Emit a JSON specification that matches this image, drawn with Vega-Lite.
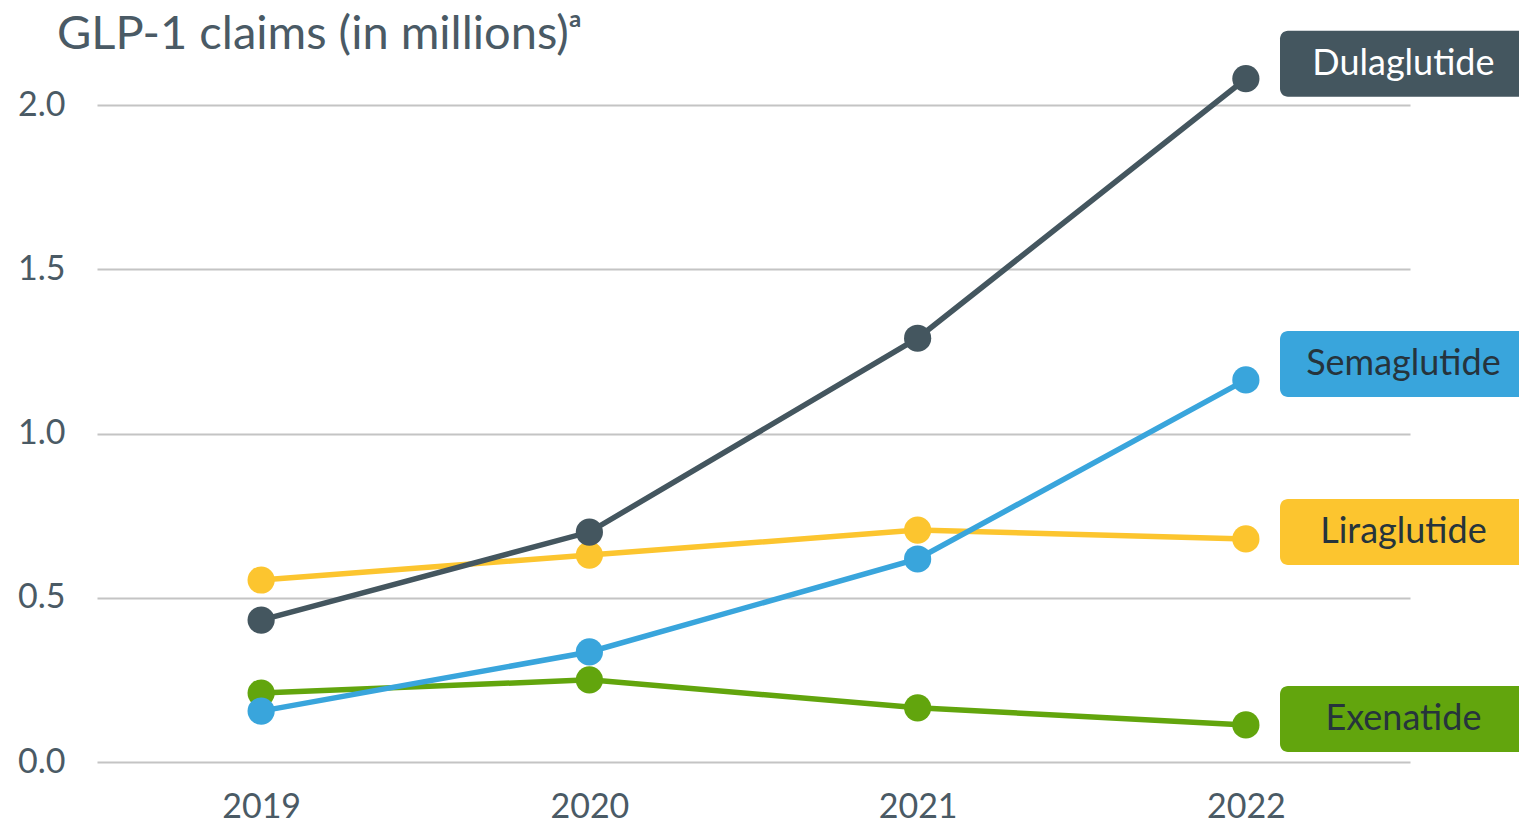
{
  "$schema": "https://vega.github.io/schema/vega-lite/v6.json",
  "autosize": {"type": "none"},
  "padding": {"left": 97, "top": 105, "right": 109, "bottom": 62},
  "width": 1313,
  "height": 657,
  "background": "white",
  "config": {"font": "Lato", "view": {"stroke": null}},
  "title": {
    "text": "GLP-1 claims (in millions)ᵃ",
    "anchor": "start",
    "frame": "group",
    "dx": -40,
    "offset": 0,
    "dy": 65,
    "baseline": "alphabetic",
    "fontSize": 47,
    "fontWeight": "normal",
    "color": "#4a5a65",
    "font": "Lato"
  },
  "data": {
    "values": [
      {"series": "Exenatide", "year": 2019, "value": 0.21},
      {"series": "Exenatide", "year": 2020, "value": 0.25},
      {"series": "Exenatide", "year": 2021, "value": 0.165},
      {"series": "Exenatide", "year": 2022, "value": 0.113},
      {"series": "Liraglutide", "year": 2019, "value": 0.554},
      {"series": "Liraglutide", "year": 2020, "value": 0.63},
      {"series": "Liraglutide", "year": 2021, "value": 0.706},
      {"series": "Liraglutide", "year": 2022, "value": 0.679},
      {"series": "Dulaglutide", "year": 2019, "value": 0.432},
      {"series": "Dulaglutide", "year": 2020, "value": 0.70},
      {"series": "Dulaglutide", "year": 2021, "value": 1.29},
      {"series": "Dulaglutide", "year": 2022, "value": 2.08},
      {"series": "Semaglutide", "year": 2019, "value": 0.155},
      {"series": "Semaglutide", "year": 2020, "value": 0.335},
      {"series": "Semaglutide", "year": 2021, "value": 0.618},
      {"series": "Semaglutide", "year": 2022, "value": 1.163}
    ]
  },
  "encoding": {
    "x": {
      "field": "year",
      "type": "quantitative",
      "scale": {"domain": [2018.5, 2022.5], "nice": false, "zero": false},
      "axis": {
        "title": null,
        "values": [2019, 2020, 2021, 2022],
        "format": "d",
        "grid": false,
        "domain": false,
        "ticks": false,
        "labelFontSize": 34,
        "labelColor": "#4a5a65",
        "labelPadding": 28,
        "labelFont": "Lato"
      }
    },
    "y": {
      "field": "value",
      "type": "quantitative",
      "scale": {"domain": [0, 2], "nice": false},
      "axis": {
        "title": null,
        "values": [0, 0.5, 1, 1.5, 2],
        "format": ".1f",
        "grid": true,
        "gridColor": "#c4c4c4",
        "gridWidth": 2,
        "domain": false,
        "ticks": false,
        "labelFontSize": 34,
        "labelColor": "#4a5a65",
        "labelPadding": 32,
        "labelFont": "Lato"
      }
    },
    "color": {
      "field": "series",
      "type": "nominal",
      "legend": null,
      "scale": {
        "domain": ["Dulaglutide", "Semaglutide", "Liraglutide", "Exenatide"],
        "range": ["#44565f", "#39a5dc", "#fcc52f", "#62a50d"]
      }
    }
  },
  "layer": [
    {"mark": {"type": "line", "strokeWidth": 5.5}},
    {"mark": {"type": "point", "filled": true, "opacity": 1, "size": 740}},
    {
      "transform": [{"filter": "datum.year === 2022 && datum.series === 'Dulaglutide'"}],
      "layer": [
        {"mark": {"type": "rect", "width": 260, "height": 66, "cornerRadius": 8, "yOffset": -15, "opacity": 1},
         "encoding": {"x": {"datum": 2022.5, "type": "quantitative"}}},
        {"mark": {"type": "text", "fontSize": 36, "align": "center", "baseline": "middle", "yOffset": -15, "font": "Lato"},
         "encoding": {"x": {"datum": 2022.48, "type": "quantitative"}, "text": {"field": "series"}, "color": {"value": "#ffffff"}}}
      ]
    },
    {
      "transform": [{"filter": "datum.year === 2022 && datum.series === 'Semaglutide'"}],
      "layer": [
        {"mark": {"type": "rect", "width": 260, "height": 66, "cornerRadius": 8, "yOffset": -16, "opacity": 1},
         "encoding": {"x": {"datum": 2022.5, "type": "quantitative"}}},
        {"mark": {"type": "text", "fontSize": 36, "align": "center", "baseline": "middle", "yOffset": -16, "font": "Lato"},
         "encoding": {"x": {"datum": 2022.48, "type": "quantitative"}, "text": {"field": "series"}, "color": {"value": "#26343c"}}}
      ]
    },
    {
      "transform": [{"filter": "datum.year === 2022 && datum.series === 'Liraglutide'"}],
      "layer": [
        {"mark": {"type": "rect", "width": 260, "height": 66, "cornerRadius": 8, "yOffset": -7, "opacity": 1},
         "encoding": {"x": {"datum": 2022.5, "type": "quantitative"}}},
        {"mark": {"type": "text", "fontSize": 36, "align": "center", "baseline": "middle", "yOffset": -7, "font": "Lato"},
         "encoding": {"x": {"datum": 2022.48, "type": "quantitative"}, "text": {"field": "series"}, "color": {"value": "#26343c"}}}
      ]
    },
    {
      "transform": [{"filter": "datum.year === 2022 && datum.series === 'Exenatide'"}],
      "layer": [
        {"mark": {"type": "rect", "width": 260, "height": 66, "cornerRadius": 8, "yOffset": -6, "opacity": 1},
         "encoding": {"x": {"datum": 2022.5, "type": "quantitative"}}},
        {"mark": {"type": "text", "fontSize": 36, "align": "center", "baseline": "middle", "yOffset": -6, "font": "Lato"},
         "encoding": {"x": {"datum": 2022.48, "type": "quantitative"}, "text": {"field": "series"}, "color": {"value": "#26343c"}}}
      ]
    }
  ]
}
